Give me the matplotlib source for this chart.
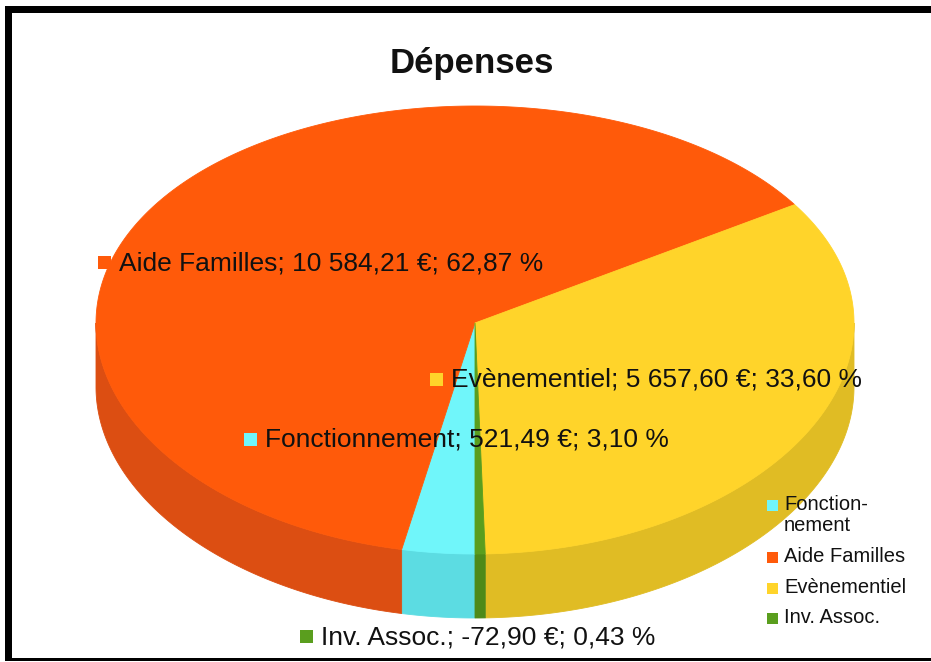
import numpy as np
import matplotlib
matplotlib.use("Agg")
import matplotlib.pyplot as plt
from matplotlib.patches import Polygon, Rectangle

# ---------------- data ----------------
categories = ["Fonctionnement", "Aide Familles", "Evènementiel", "Inv. Assoc."]
legend_labels = ["Fonction-\nnement", "Aide Familles", "Evènementiel", "Inv. Assoc."]
values = [521.49, 10584.21, 5657.60, -72.90]
percents = [3.10, 62.87, 33.60, 0.43]
title = "Dépenses"

top_colors = ["#70F6FA", "#FF5A0A", "#FFD42A", "#5A9E1E"]
side_colors = ["#5CDCE2", "#DC4E12", "#E0BC24", "#4E8A18"]

plt.rcParams['font.family'] = ['Liberation Sans', 'DejaVu Sans']

W, H = 931, 662
fig = plt.figure(figsize=(W / 100, H / 100), dpi=100)
ax = fig.add_axes([0, 0, 1, 1])
ax.set_xlim(0, W)
ax.set_ylim(H, 0)
ax.axis('off')

# pseudo-3D pie geometry
cx, cy, a, b, c, depth = 475, 323, 379, 224, 7, 64


def proj(theta_deg, dz=0.0):
    t = np.radians(theta_deg)
    s = -np.sin(t)
    return cx + a * np.cos(t), cy + b * s + c * s ** 2 + dz


fr = np.array(percents) / sum(percents)
start = 270.0
ends = start - np.cumsum(fr) * 360
starts = np.concatenate([[start], ends[:-1]])

# side walls (front half only)
for i in range(len(categories)):
    lo, hi = ends[i], starts[i]
    for k in (-1, 0, 1):
        l = max(lo, 180 + 360 * k)
        h = min(hi, 360 + 360 * k)
        if h > l:
            th = np.linspace(l, h, 200)
            x1, y1 = proj(th)
            x2, y2 = proj(th[::-1], depth)
            pts = np.column_stack([np.concatenate([x1, x2]), np.concatenate([y1, y2])])
            ax.add_patch(Polygon(pts, closed=True, facecolor=side_colors[i],
                                 edgecolor=side_colors[i], lw=0.6))

# top faces
for i in range(len(categories)):
    th = np.linspace(ends[i], starts[i], 400)
    x, y = proj(th)
    pts = np.column_stack([np.concatenate([[cx], x]), np.concatenate([[cy], y])])
    ax.add_patch(Polygon(pts, closed=True, facecolor=top_colors[i],
                         edgecolor=top_colors[i], lw=0.6))


def fr_num(v):
    return f"{v:,.2f}".replace(",", " ").replace(".", ",")


# data labels
label_pos = {  # (square x center, y center)
    "Aide Familles": (104, 262),
    "Evènementiel": (436, 379),
    "Fonctionnement": (250, 439),
    "Inv. Assoc.": (306, 636),
}
for i, name in enumerate(categories):
    sx, sy = label_pos[name]
    ax.add_patch(Rectangle((sx - 6.5, sy - 6.5), 13, 13, facecolor=top_colors[i], edgecolor='none'))
    txt = f"{name}; {fr_num(values[i])} €; {fr_num(percents[i])} %"
    ax.text(sx + 15, sy + 1, txt, fontsize=19, color='#111111', va='center', ha='left')

# title
ax.text(472, 63, title, fontsize=25, fontweight='bold', ha='center', va='center', color='#111111')

# legend
leg_y = [505, 557, 588, 618]
for i, lab in enumerate(legend_labels):
    ax.add_patch(Rectangle((767, leg_y[i] - 5.5), 11, 11, facecolor=top_colors[i], edgecolor='none'))
    ax.text(784, leg_y[i] - 10, lab, fontsize=14.5, va='top', ha='left', color='#111111',
            linespacing=1.15)

# frame
ax.add_patch(Rectangle((5, 6), W - 5, 7, facecolor='black', edgecolor='none'))
ax.add_patch(Rectangle((5, 6), 7, 654, facecolor='black', edgecolor='none'))
ax.add_patch(Rectangle((5, 658), W - 5, 3, facecolor='black', edgecolor='none'))

fig.savefig("out.png", dpi=100, facecolor='white')
